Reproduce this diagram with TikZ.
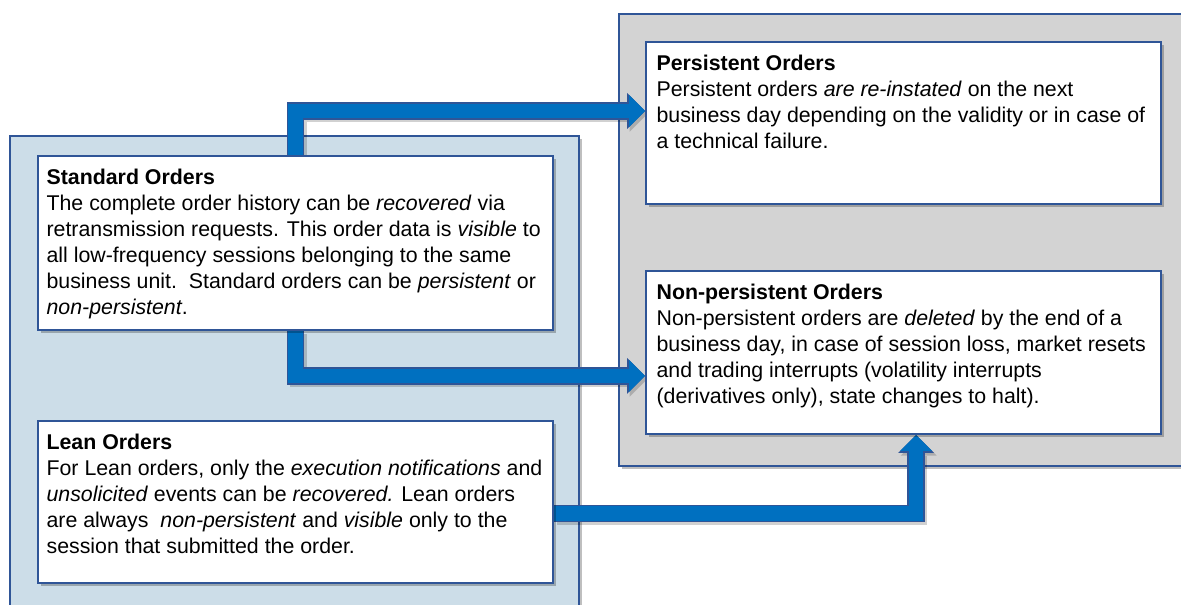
\documentclass[tikz,border=0pt]{standalone}
\usepackage{fontspec}
\setmainfont{Liberation Sans}
\usetikzlibrary{positioning,arrows.meta,shadows}

\definecolor{edgeblue}{HTML}{2F5597}
\definecolor{flowblue}{HTML}{0070C0}
\definecolor{lffill}{HTML}{CCDDE8}
\definecolor{greyfill}{HTML}{D3D3D3}

\pgfdeclarelayer{back}
\pgfdeclarelayer{mid}
\pgfsetlayers{back,mid,main}

\tikzset{
	panel/.style={draw=edgeblue, line width=1.5pt, anchor=north west,
		inner sep=0pt,
		drop shadow={shadow xshift=2pt, shadow yshift=-2pt,
			opacity=.25, fill=black}},
	card/.style={panel, fill=white, minimum width=386.25pt},
	cardtext/.style={inner sep=0pt, align=left,
		font=\fontsize{16}{19.5}\selectfont},
	flow/.style={line width=11pt, draw=flowblue,
		-{Triangle[length=12pt, width=24pt, line width=0pt]},
		preaction={draw=black, opacity=.18, line width=13pt,
			transform canvas={shift={(2pt,-2pt)}},
			-{Triangle[length=13.5pt, width=27pt, line width=0pt]}},
		preaction={draw=edgeblue, line width=13pt,
			-{Triangle[length=13.5pt, width=27pt, line width=0pt]}}}
}

\begin{document}
\begin{tikzpicture}[x=0.75pt, y=-0.75pt]
	\useasboundingbox (0,0) rectangle (1181,605);

	\begin{pgfonlayer}{back}
	\node [panel, fill=lffill, minimum width=426.75pt, minimum height=360pt]
		(lfpanel) at (9,135) {};
	\node [panel, fill=greyfill, minimum width=432.75pt, minimum height=339pt]
		(refpanel) at (618,13) {};
	\end{pgfonlayer}

	\node [card, minimum height=121.5pt] (pers) at (645,41) {};
	\node [cardtext, below right = 10pt and 8.5pt of pers.north west] (perstext)
		{\textbf{Persistent Orders}\\
		Persistent orders \textit{are re-instated} on the next\\
		business day depending on the validity or in case of\\
		a technical failure.};

	\node [card, minimum height=122.25pt] (npers) at (645,270) {};
	\node [cardtext, below right = 10pt and 8.5pt of npers.north west] (nperstext)
		{\textbf{Non-persistent Orders}\\
		Non-persistent orders are \textit{deleted} by the end of a\\
		business day, in case of session loss, market resets\\
		and trading interrupts (volatility interrupts\\
		(derivatives only), state changes to halt).};

	\node [card, minimum height=130.5pt] (std) at (37,155) {};
	\node [cardtext, below right = 10pt and 7pt of std.north west] (stdtext)
		{\textbf{Standard Orders}\\
		The complete order history can be \textit{recovered} via\\
		retransmission requests. This order data is \textit{visible} to\\
		all low-frequency sessions belonging to the same\\
		business unit.\ \ Standard orders can be \textit{persistent} or\\
		\textit{non-persistent}.};

	\node [card, minimum height=121.5pt] (lean) at (37,420) {};
	\node [cardtext, below right = 10pt and 7pt of lean.north west] (leantext)
		{\textbf{Lean Orders}\\
		For Lean orders, only the \textit{execution notifications} and\\
		\textit{unsolicited} events can be \textit{recovered.} Lean orders\\
		are always \ \textit{non-persistent} and \textit{visible} only to the\\
		session that submitted the order.};

	\begin{pgfonlayer}{mid}
	\draw [ flow ] (std.north) |- ([yshift=9pt]pers.west);
	\draw [ flow ] (std.south) |- ([yshift=-17.6pt]npers.west);
	\draw [ flow ] ([yshift=-8.6pt]lean.east) -| ([xshift=9.4pt]npers.south);
	\end{pgfonlayer}
\end{tikzpicture}
\end{document}
